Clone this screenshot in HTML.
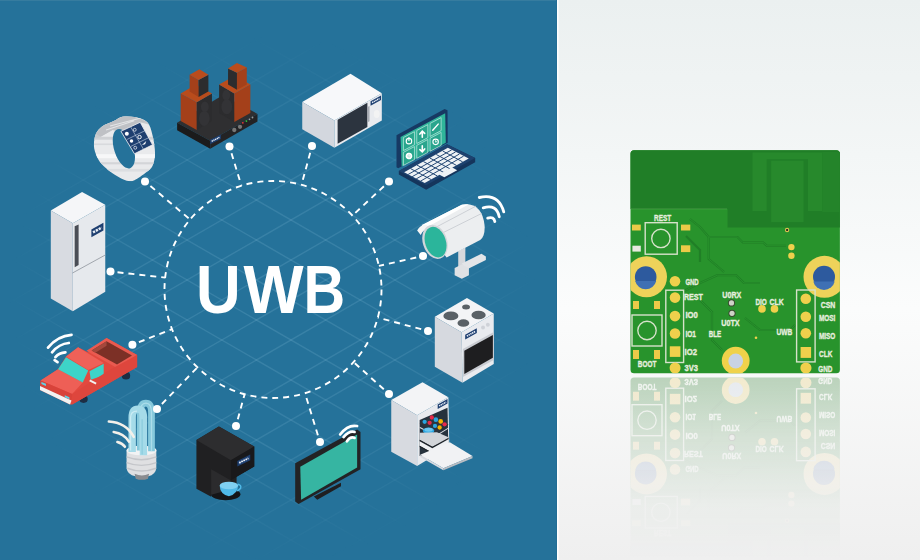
<!DOCTYPE html>
<html><head><meta charset="utf-8">
<style>
html,body{margin:0;padding:0;width:920px;height:560px;overflow:hidden;background:#fff;}
svg{display:block;}
text{font-family:"Liberation Sans",sans-serif;}
</style></head>
<body>
<svg width="920" height="560" viewBox="0 0 920 560">
<defs>
  <linearGradient id="rbg" x1="0" y1="0" x2="0" y2="1">
    <stop offset="0" stop-color="#ebf0f0"/>
    <stop offset="0.55" stop-color="#fbfcfc"/>
    <stop offset="1" stop-color="#efefef"/>
  </linearGradient>
  <linearGradient id="fade" x1="0" y1="0" x2="0" y2="1">
    <stop offset="0" stop-color="#fff" stop-opacity="0.36"/>
    <stop offset="0.35" stop-color="#fff" stop-opacity="0.18"/>
    <stop offset="0.7" stop-color="#fff" stop-opacity="0.04"/>
    <stop offset="1" stop-color="#fff" stop-opacity="0"/>
  </linearGradient>
  <filter id="desat" x="0" y="0" width="1" height="1"><feColorMatrix type="saturate" values="0.75"/></filter>
  <mask id="rmask" maskUnits="userSpaceOnUse" x="600" y="375" width="280" height="185">
    <rect x="600" y="375" width="280" height="185" fill="url(#fade)"/>
  </mask>
  <radialGradient id="gfade" cx="272" cy="300" r="265" gradientUnits="userSpaceOnUse">
    <stop offset="0" stop-color="#fff" stop-opacity="1"/>
    <stop offset="0.55" stop-color="#fff" stop-opacity="0.8"/>
    <stop offset="0.85" stop-color="#fff" stop-opacity="0.25"/>
    <stop offset="1" stop-color="#fff" stop-opacity="0"/>
  </radialGradient>
  <mask id="gmask" maskUnits="userSpaceOnUse" x="0" y="0" width="557" height="560">
    <rect x="0" y="0" width="557" height="560" fill="url(#gfade)"/>
  </mask>
  <clipPath id="leftclip"><rect x="0" y="0" width="557" height="560"/></clipPath>
  <clipPath id="pcbclip"><rect x="630.5" y="150.3" width="209.4" height="223" rx="3.5"/></clipPath>
</defs>
<rect x="557" y="0" width="363" height="560" fill="url(#rbg)"/>
<rect x="0" y="0" width="557" height="560" fill="#25729a"/>
<rect x="0" y="0" width="557" height="1" fill="#367c9f"/>
<rect x="556" y="0" width="1" height="560" fill="#226d95"/>
<rect x="557" y="0" width="1.5" height="560" fill="#ffffff"/>
<g clip-path="url(#leftclip)"><g mask="url(#gmask)" stroke="#a8d8ec" stroke-opacity="0.17" stroke-width="1.4">
<line x1="0" y1="-788.0" x2="557" y2="-466.4"/>
<line x1="0" y1="-772.0" x2="557" y2="-1093.6"/>
<line x1="0" y1="-748.0" x2="557" y2="-426.4"/>
<line x1="0" y1="-732.0" x2="557" y2="-1053.6"/>
<line x1="0" y1="-708.0" x2="557" y2="-386.4"/>
<line x1="0" y1="-692.0" x2="557" y2="-1013.6"/>
<line x1="0" y1="-668.0" x2="557" y2="-346.4"/>
<line x1="0" y1="-652.0" x2="557" y2="-973.6"/>
<line x1="0" y1="-628.0" x2="557" y2="-306.4"/>
<line x1="0" y1="-612.0" x2="557" y2="-933.6"/>
<line x1="0" y1="-588.0" x2="557" y2="-266.4"/>
<line x1="0" y1="-572.0" x2="557" y2="-893.6"/>
<line x1="0" y1="-548.0" x2="557" y2="-226.4"/>
<line x1="0" y1="-532.0" x2="557" y2="-853.6"/>
<line x1="0" y1="-508.0" x2="557" y2="-186.4"/>
<line x1="0" y1="-492.0" x2="557" y2="-813.6"/>
<line x1="0" y1="-468.0" x2="557" y2="-146.4"/>
<line x1="0" y1="-452.0" x2="557" y2="-773.6"/>
<line x1="0" y1="-428.0" x2="557" y2="-106.4"/>
<line x1="0" y1="-412.0" x2="557" y2="-733.6"/>
<line x1="0" y1="-388.0" x2="557" y2="-66.4"/>
<line x1="0" y1="-372.0" x2="557" y2="-693.6"/>
<line x1="0" y1="-348.0" x2="557" y2="-26.4"/>
<line x1="0" y1="-332.0" x2="557" y2="-653.6"/>
<line x1="0" y1="-308.0" x2="557" y2="13.6"/>
<line x1="0" y1="-292.0" x2="557" y2="-613.6"/>
<line x1="0" y1="-268.0" x2="557" y2="53.6"/>
<line x1="0" y1="-252.0" x2="557" y2="-573.6"/>
<line x1="0" y1="-228.0" x2="557" y2="93.6"/>
<line x1="0" y1="-212.0" x2="557" y2="-533.6"/>
<line x1="0" y1="-188.0" x2="557" y2="133.6"/>
<line x1="0" y1="-172.0" x2="557" y2="-493.6"/>
<line x1="0" y1="-148.0" x2="557" y2="173.6"/>
<line x1="0" y1="-132.0" x2="557" y2="-453.6"/>
<line x1="0" y1="-108.0" x2="557" y2="213.6"/>
<line x1="0" y1="-92.0" x2="557" y2="-413.6"/>
<line x1="0" y1="-68.0" x2="557" y2="253.6"/>
<line x1="0" y1="-52.0" x2="557" y2="-373.6"/>
<line x1="0" y1="-28.0" x2="557" y2="293.6"/>
<line x1="0" y1="-12.0" x2="557" y2="-333.6"/>
<line x1="0" y1="12.0" x2="557" y2="333.6"/>
<line x1="0" y1="28.0" x2="557" y2="-293.6"/>
<line x1="0" y1="52.0" x2="557" y2="373.6"/>
<line x1="0" y1="68.0" x2="557" y2="-253.6"/>
<line x1="0" y1="92.0" x2="557" y2="413.6"/>
<line x1="0" y1="108.0" x2="557" y2="-213.6"/>
<line x1="0" y1="132.0" x2="557" y2="453.6"/>
<line x1="0" y1="148.0" x2="557" y2="-173.6"/>
<line x1="0" y1="172.0" x2="557" y2="493.6"/>
<line x1="0" y1="188.0" x2="557" y2="-133.6"/>
<line x1="0" y1="212.0" x2="557" y2="533.6"/>
<line x1="0" y1="228.0" x2="557" y2="-93.6"/>
<line x1="0" y1="252.0" x2="557" y2="573.6"/>
<line x1="0" y1="268.0" x2="557" y2="-53.6"/>
<line x1="0" y1="292.0" x2="557" y2="613.6"/>
<line x1="0" y1="308.0" x2="557" y2="-13.6"/>
<line x1="0" y1="332.0" x2="557" y2="653.6"/>
<line x1="0" y1="348.0" x2="557" y2="26.4"/>
<line x1="0" y1="372.0" x2="557" y2="693.6"/>
<line x1="0" y1="388.0" x2="557" y2="66.4"/>
<line x1="0" y1="412.0" x2="557" y2="733.6"/>
<line x1="0" y1="428.0" x2="557" y2="106.4"/>
<line x1="0" y1="452.0" x2="557" y2="773.6"/>
<line x1="0" y1="468.0" x2="557" y2="146.4"/>
<line x1="0" y1="492.0" x2="557" y2="813.6"/>
<line x1="0" y1="508.0" x2="557" y2="186.4"/>
<line x1="0" y1="532.0" x2="557" y2="853.6"/>
<line x1="0" y1="548.0" x2="557" y2="226.4"/>
<line x1="0" y1="572.0" x2="557" y2="893.6"/>
<line x1="0" y1="588.0" x2="557" y2="266.4"/>
<line x1="0" y1="612.0" x2="557" y2="933.6"/>
<line x1="0" y1="628.0" x2="557" y2="306.4"/>
<line x1="0" y1="652.0" x2="557" y2="973.6"/>
<line x1="0" y1="668.0" x2="557" y2="346.4"/>
<line x1="0" y1="692.0" x2="557" y2="1013.6"/>
<line x1="0" y1="708.0" x2="557" y2="386.4"/>
<line x1="0" y1="732.0" x2="557" y2="1053.6"/>
<line x1="0" y1="748.0" x2="557" y2="426.4"/>
<line x1="0" y1="772.0" x2="557" y2="1093.6"/>
<line x1="0" y1="788.0" x2="557" y2="466.4"/>
<line x1="0" y1="812.0" x2="557" y2="1133.6"/>
<line x1="0" y1="828.0" x2="557" y2="506.4"/>
<line x1="0" y1="852.0" x2="557" y2="1173.6"/>
<line x1="0" y1="868.0" x2="557" y2="546.4"/>
<line x1="0" y1="892.0" x2="557" y2="1213.6"/>
<line x1="0" y1="908.0" x2="557" y2="586.4"/>
<line x1="0" y1="932.0" x2="557" y2="1253.6"/>
<line x1="0" y1="948.0" x2="557" y2="626.4"/>
<line x1="0" y1="972.0" x2="557" y2="1293.6"/>
<line x1="0" y1="988.0" x2="557" y2="666.4"/>
<line x1="0" y1="1012.0" x2="557" y2="1333.6"/>
<line x1="0" y1="1028.0" x2="557" y2="706.4"/>
<line x1="0" y1="1052.0" x2="557" y2="1373.6"/>
<line x1="0" y1="1068.0" x2="557" y2="746.4"/>
<line x1="0" y1="1092.0" x2="557" y2="1413.6"/>
<line x1="0" y1="1108.0" x2="557" y2="786.4"/>
<line x1="0" y1="1132.0" x2="557" y2="1453.6"/>
<line x1="0" y1="1148.0" x2="557" y2="826.4"/>
<line x1="0" y1="1172.0" x2="557" y2="1493.6"/>
<line x1="0" y1="1188.0" x2="557" y2="866.4"/>
<line x1="0" y1="1212.0" x2="557" y2="1533.6"/>
<line x1="0" y1="1228.0" x2="557" y2="906.4"/>
<line x1="0" y1="1252.0" x2="557" y2="1573.6"/>
<line x1="0" y1="1268.0" x2="557" y2="946.4"/>
<line x1="0" y1="1292.0" x2="557" y2="1613.6"/>
<line x1="0" y1="1308.0" x2="557" y2="986.4"/>
<line x1="0" y1="1332.0" x2="557" y2="1653.6"/>
<line x1="0" y1="1348.0" x2="557" y2="1026.4"/>
<line x1="0" y1="1372.0" x2="557" y2="1693.6"/>
<line x1="0" y1="1388.0" x2="557" y2="1066.4"/>
<line x1="0" y1="1412.0" x2="557" y2="1733.6"/>
<line x1="0" y1="1428.0" x2="557" y2="1106.4"/>
<line x1="0" y1="1452.0" x2="557" y2="1773.6"/>
<line x1="0" y1="1468.0" x2="557" y2="1146.4"/>
<line x1="0" y1="1492.0" x2="557" y2="1813.6"/>
<line x1="0" y1="1508.0" x2="557" y2="1186.4"/>
<line x1="0" y1="1532.0" x2="557" y2="1853.6"/>
<line x1="0" y1="1548.0" x2="557" y2="1226.4"/>
<line x1="0" y1="1572.0" x2="557" y2="1893.6"/>
<line x1="0" y1="1588.0" x2="557" y2="1266.4"/></g></g>
<g fill="none" stroke="#fff" stroke-width="1.9" stroke-dasharray="6 5">
<circle cx="273" cy="289.5" r="108.5"/>
<line x1="150.4" y1="186.0" x2="190.1" y2="219.5"/>
<line x1="231.5" y1="153.2" x2="241.4" y2="185.7"/>
<line x1="310.2" y1="152.8" x2="301.5" y2="184.8"/>
<line x1="383.9" y1="186.3" x2="352.4" y2="215.6"/>
<line x1="416.2" y1="257.5" x2="378.9" y2="265.9"/>
<line x1="421.2" y1="329.2" x2="377.8" y2="317.6"/>
<line x1="383.8" y1="389.3" x2="353.6" y2="362.1"/>
<line x1="317.9" y1="435.3" x2="305.0" y2="393.2"/>
<line x1="237.8" y1="419.2" x2="244.6" y2="394.2"/>
<line x1="161.9" y1="404.0" x2="197.4" y2="367.4"/>
<line x1="138.9" y1="342.2" x2="172.0" y2="329.2"/>
<line x1="117.5" y1="272.3" x2="165.2" y2="277.6"/>
</g>

<g fill="#fff" font-size="68" font-weight="bold" style="font-family:'Liberation Sans',sans-serif">
<text transform="translate(196.05,313.4) scale(0.91,1)">U</text>
<text transform="translate(243.6,313.4) scale(0.936,1)">W</text>
<text transform="translate(303.5,313.4) scale(0.848,1)">B</text>
</g>
<!-- watch -->
<g transform="translate(90,110) scale(0.13387)">
  <defs><clipPath id="wclip"><path d="M29,265 C28,236 34,202 44,178 C54,154 70,137 92,121 C114,105 152,94 178,82 C204,70 220,54 246,49 C272,44 302,46 332,53 C362,60 406,70 428,92 C450,114 457,150 467,188 C477,226 486,284 486,322 C486,360 478,395 467,419 C456,443 440,450 418,467 C396,484 356,514 332,524 C308,534 298,535 274,529 C250,523 217,504 188,486 C159,468 124,442 101,419 C78,396 65,377 53,351 C41,325 30,294 29,265 Z"/></clipPath></defs>
  <g clip-path="url(#wclip)">
    <rect x="0" y="0" width="520" height="560" fill="#e9eaec"/>
    <rect x="0" y="200" width="520" height="22" fill="#cfd1d4"/>
    <rect x="0" y="250" width="520" height="12" fill="#d8dadd"/>
    <rect x="0" y="330" width="520" height="30" fill="#f7f7f8"/>
    <rect x="0" y="390" width="520" height="16" fill="#d3d5d8"/>
    <rect x="0" y="440" width="520" height="20" fill="#dcdee1"/>
    <path d="M0,0 L520,0 L520,130 L375,92 L231,159 L168,150 L60,210 L0,200 Z" fill="#c9cbce"/>
    <path d="M44,178 L92,121 L178,82 L246,49 L332,53 L428,92 L375,92 L231,159 L168,150 L80,200 Z" fill="#bfc1c5"/>
    <path d="M150,120 L380,60 M120,150 L330,80" stroke="#e4e5e7" stroke-width="8"/>
  </g>
  <ellipse cx="253" cy="289" rx="72" ry="153" transform="rotate(-18 253 289)" fill="#25729a"/>
  <path d="M231,159 L375,92 L467,260 L332,327 Z" fill="#1e3f70" stroke="#f2f3f5" stroke-width="6"/>
  <g stroke="#dfe8f3" stroke-width="4" fill="none">
    <path d="M277,220 L416,152 M305,272 L442,205"/>
    <path d="M303,125 L400,294"/>
  </g>
  <g fill="#fff">
    <circle cx="275" cy="178" r="15"/><circle cx="334" cy="148" r="11" fill="none" stroke="#fff" stroke-width="5"/>
    <circle cx="310" cy="232" r="13"/><circle cx="370" cy="202" r="13" fill="none" stroke="#fff" stroke-width="7"/>
    <circle cx="338" cy="282" r="11" fill="none" stroke="#fff" stroke-width="5"/><path d="M388,262 L420,232 L412,255 Z"/>
  </g>
</g>
<!-- speakers -->
<g transform="translate(170,55) scale(0.17857)">
  <path d="M40,380 L295,225 L490,330 L225,480 Z" fill="#2f2f31"/>
  <path d="M40,380 L225,480 L225,525 L40,422 Z" fill="#1b1b1c"/>
  <path d="M225,480 L490,330 L490,372 L225,525 Z" fill="#232325"/>
  <!-- left speaker -->
  <path d="M60,215 L150,265 L150,420 L60,370 Z" fill="#a4401a"/>
  <path d="M150,265 L235,215 L235,370 L150,420 Z" fill="#2c2c2e"/>
  <path d="M60,215 L145,165 L235,215 L150,265 Z" fill="#b94c1c"/>
  <path d="M110,110 L160,140 L160,235 L110,205 Z" fill="#a4401a"/>
  <path d="M160,140 L215,110 L215,205 L160,235 Z" fill="#2c2c2e"/>
  <path d="M110,110 L165,80 L215,110 L160,140 Z" fill="#b94c1c"/>
  <ellipse cx="195" cy="290" rx="22" ry="30" fill="#333336"/>
  <ellipse cx="192" cy="355" rx="30" ry="42" fill="#333336"/>
  <!-- right speaker -->
  <path d="M275,165 L360,215 L360,375 L275,325 Z" fill="#2c2c2e"/>
  <path d="M360,215 L450,165 L450,325 L360,375 Z" fill="#a4401a"/>
  <path d="M275,165 L365,115 L450,165 L360,215 Z" fill="#b94c1c"/>
  <path d="M325,75 L375,100 L375,195 L325,165 Z" fill="#2c2c2e"/>
  <path d="M375,100 L430,70 L430,165 L375,195 Z" fill="#a4401a"/>
  <path d="M325,75 L375,45 L430,70 L375,100 Z" fill="#b94c1c"/>
  <ellipse cx="315" cy="225" rx="22" ry="30" fill="#333336"/>
  <ellipse cx="318" cy="290" rx="30" ry="42" fill="#333336"/>
  <!-- controls -->
  <circle cx="360" cy="420" r="12" fill="#777"/><circle cx="392" cy="402" r="12" fill="#777"/>
  <circle cx="408" cy="380" r="5" fill="#e33"/><circle cx="428" cy="370" r="5" fill="#3c3"/>
  <circle cx="445" cy="360" r="5" fill="#999"/><circle cx="462" cy="350" r="5" fill="#999"/>
  <path d="M225,475 L285,445 L285,470 L225,500 Z" fill="#1e3f70"/>
  <path d="M233.4,483.3 L276.6,461.7" stroke="#e8eef6" stroke-width="8.0" stroke-dasharray="7.5 3.0"/>
</g>
<!-- microwave -->
<g transform="translate(295,65) scale(0.1608)">
  <path d="M45,230 L345,55 L540,175 L245,345 Z" fill="#f7f8fa"/>
  <path d="M45,230 L245,345 L245,515 L45,400 Z" fill="#d3d7de"/>
  <path d="M245,345 L540,175 L540,345 L245,515 Z" fill="#e9ebef"/>
  <path d="M265,340 L450,235 L450,385 L265,490 Z" fill="#2c343f"/>
  <path d="M455,260 L463,255 L463,350 L455,355 Z" fill="#9aa0a8"/>
  <path d="M470,225 L535,190 L535,217 L470,253 Z" fill="#1e3f70"/>
  <path d="M479.1,234.1 L525.9,208.4" stroke="#e8eef6" stroke-width="9.0" stroke-dasharray="8.4 3.4"/>
  <ellipse cx="508" cy="305" rx="18" ry="25" fill="#f3f3f3"/>
</g>
<!-- laptop -->
<g transform="translate(390,105) scale(0.1607)">
  <path d="M55,410 L355,245 L530,330 L530,357 L225,527 L55,432 Z" fill="#15355c"/>
  <path d="M55,410 L355,245 L530,330 L225,500 Z" fill="#1d426f"/>
  <path d="M40.3,188.3 L339.9,24.4 L357.9,33.1 L359.3,235.2 L51.1,394.0 L40.3,386.8 Z" fill="#173963"/>
  <path d="M65.6,199.1 L343.5,51.1 L347.1,235.2 L72.8,383.2 Z" fill="#2fb59a"/>
  <path d="M83.6,202.7 L152.2,166.4 L152.2,247.2 L83.6,283.6 Z M83.6,295.1 L152.2,258.8 L152.2,339.6 L83.6,376.0 Z M166.6,158.7 L235.2,122.4 L235.2,203.2 L166.6,239.6 Z M166.6,251.1 L235.2,214.8 L235.2,295.6 L166.6,332.0 Z M249.6,114.7 L318.2,78.4 L318.2,159.2 L249.6,195.6 Z M249.6,207.1 L318.2,170.8 L318.2,251.6 L249.6,288.0 Z" fill="#29a58d" stroke="#d3f1e9" stroke-width="4"/>
  <g fill="none" stroke="#fff" stroke-width="7" stroke-linecap="round">
    <circle cx="117.9" cy="225.0" r="17"/><path d="M117.9,203.0 L117.9,221.0"/>
    <circle cx="117.9" cy="317.4" r="15" stroke-width="12" stroke-dasharray="7 5"/><circle cx="117.9" cy="317.4" r="7"/>
    <path d="M185.9,181.0 L200.9,163.0 L215.9,177.0 M200.9,166.0 L200.9,201.0" stroke-width="10"/>
    <path d="M185.9,277.4 L200.9,291.4 L215.9,273.4 M200.9,253.4 L200.9,288.4" stroke-width="10"/>
    <path d="M265.9,157.0 L299.9,119.0" stroke-width="9"/>
    <circle cx="283.9" cy="229.4" r="17"/><path d="M283.9,221.4 L283.9,231.4 L291.9,227.4" stroke-width="5"/>
  </g>
  <path d="M88,418 L360,266 L490,333 L216,486 Z" fill="#eef2f5"/>
  <g stroke="#1d426f" stroke-width="6" fill="none">
    <path d="M113,432 L384,279 M138,446 L408,292 M163,460 L432,305 M190,474 L458,318"/>
    <path d="M128,396 L256,464 M168,374 L295,442 M208,352 L335,420 M248,330 L375,398 M288,308 L414,376 M328,286 L452,354"/>
  </g>
  <path d="M305,432 L385,388 L418,406 L338,450 Z" fill="#eef2f5"/>
</g>
<!-- camera -->
<g transform="translate(410,185) scale(0.17857)">
  <path d="M270,370 L310,350 L310,470 L270,490 Z" fill="#d6d8dc"/>
  <path d="M290,440 L400,385 L425,400 L425,420 L315,475 Z" fill="#e3e5e8"/>
  <path d="M250,465 L290,445 L330,465 L330,505 L290,525 L250,505 Z" fill="#dfe1e4"/>
  <path d="M65,226 L290,110 Q405,95 418,230 Q420,292 393,308 L205,406 Z" fill="#eceef0"/>
  <path d="M65,226 L290,110 Q310,106 330,108 L95,236 Z" fill="#ffffff"/>
  <path d="M135,242 L370,118 M175,272 L400,160" stroke="#c9cdd2" stroke-width="5" fill="none"/>
  <path d="M40,255 Q60,220 95,225 L110,245 Q75,245 60,280 Z" fill="#f5f5f5"/>
  <ellipse cx="140" cy="318" rx="68" ry="98" transform="rotate(-18 140 318)" fill="#d3d6da"/>
  <ellipse cx="143" cy="320" rx="58" ry="88" transform="rotate(-18 143 320)" fill="#2bb59b"/>
  <g fill="none" stroke="#fff" stroke-width="16" stroke-linecap="round">
    <path d="M435,185 Q470,175 475,205"/>
    <path d="M410,128 Q485,105 500,178"/>
    <path d="M388,70 Q495,45 525,150"/>
  </g>
</g>
<!-- oven -->
<g transform="translate(425,290) scale(0.17857)">
  <path d="M55,150 L235,45 L385,132 L205,237 Z" fill="#f3f4f6"/>
  <path d="M55,150 L205,237 L210,520 L55,430 Z" fill="#d6d9df"/>
  <path d="M205,237 L385,132 L385,415 L210,520 Z" fill="#e9ebef"/>
  <ellipse cx="145" cy="145" rx="42" ry="25" fill="#5a6166"/>
  <ellipse cx="230" cy="95" rx="22" ry="14" fill="#5a6166"/>
  <ellipse cx="300" cy="140" rx="40" ry="24" fill="#5a6166"/>
  <ellipse cx="215" cy="185" rx="33" ry="21" fill="#5a6166"/>
  <path d="M225,250 L290,214 L290,241 L225,277 Z" fill="#1e3f70"/>
  <path d="M234.1,258.5 L280.9,232.5" stroke="#e8eef6" stroke-width="8.6" stroke-dasharray="8.1 3.2"/>
  <circle cx="325" cy="210" r="11" fill="#cfd2d8"/><circle cx="352" cy="195" r="11" fill="#cfd2d8"/>
  <path d="M212,330 L385,235 L385,392 L212,487 Z" fill="#c9ccd2"/>
  <path d="M220,340 L380,252 L380,380 L220,470 Z" fill="#1e1e20"/>
</g>
<!-- dishwasher -->
<g transform="translate(385,375) scale(0.17857)">
  <path d="M35,140 L210,40 L355,125 L180,225 Z" fill="#f3f4f6"/>
  <path d="M35,140 L180,225 L180,510 L35,430 Z" fill="#d7dae0"/>
  <path d="M180,225 L355,125 L360,400 L180,510 Z" fill="#e8eaee"/>
  <path d="M194,252 L350,184 L356,447 L194,454 Z" fill="#26323d"/>
  <path d="M295,165 L350,135 L350,160 L295,190 Z" fill="#1e3f70"/>
  <path d="M302.7,173.3 L342.3,151.7" stroke="#e8eef6" stroke-width="8.0" stroke-dasharray="7.5 3.0"/>
  <path d="M194,272 L265,230 L356,278 L285,321 Z" fill="#2e353c"/>
  <path d="M194,290 L285,337 L356,294 L356,300 L285,344 L194,297 Z" fill="#d9dce0"/>
  <g>
    <circle cx="222" cy="262" r="12" fill="#2aa5e0"/><circle cx="262" cy="238" r="12" fill="#e8294b"/>
    <circle cx="250" cy="268" r="12" fill="#e8294b"/><circle cx="285" cy="250" r="13" fill="#2aa5e0"/>
    <circle cx="280" cy="285" r="12" fill="#2aa5e0"/><circle cx="312" cy="260" r="13" fill="#f4b400"/>
    <circle cx="306" cy="294" r="12" fill="#f4b400"/><circle cx="334" cy="276" r="12" fill="#e8294b"/>
    <ellipse cx="244" cy="312" rx="32" ry="18" fill="#2aa5e0"/>
    <ellipse cx="244" cy="307" rx="24" ry="11" fill="#6cc7ef"/>
  </g>
  <path d="M194,324 L291,321 L353,347 L353,363 L265,402 L194,363 Z" fill="#d2d5d9"/>
  <path d="M194,363 L265,402 L356,352 L356,360 L265,410 L194,371 Z" fill="#1e2328"/>
  <path d="M194,371 L265,410 L356,360 L356,385 L265,435 L194,396 Z" fill="#eef0f2"/>
  <path d="M194,396 L265,435 L356,385 L356,392 L265,442 L194,403 Z" fill="#1e2328"/>
  <path d="M197,447 L363,376 L490,454 L327,522 Z" fill="#f1f2f4"/>
  <path d="M327,522 L490,454 L490,466 L327,534 Z" fill="#b9bdc3"/>
  <path d="M197,447 L327,522 L327,534 L197,459 Z" fill="#d7dae0"/>
</g>
<!-- tv -->
<g transform="translate(285,415) scale(0.16966)">
  <path d="M170,480 L330,400 L330,420 L190,500 Z" fill="#1f1f21"/>
  <path d="M60,285 L425,85 L445,100 L445,320 L80,525 L60,510 Z" fill="#232325"/>
  <path d="M90,305 L425,115 L425,310 L95,500 Z" fill="#36b5a2"/>
  <g fill="none" stroke="#fff" stroke-width="16" stroke-linecap="round">
    <path d="M365,155 Q385,125 410,135"/>
    <path d="M345,130 Q380,90 410,100"/>
    <path d="M325,115 Q370,55 425,65"/>
  </g>
</g>
<!-- coffee -->
<g transform="translate(190,420) scale(0.16059)">
  <ellipse cx="222" cy="462" rx="92" ry="38" fill="#151517"/>
  <path d="M40,125 L180,40 L400,165 L400,290 L290,352 L290,410 L132,465 L132,478 L40,428 Z" fill="#202022"/>
  <path d="M40,125 L180,40 L400,165 L255,250 Z" fill="#2d2d2f"/>
  <path d="M255,250 L400,165 L400,290 L255,375 Z" fill="#19191b"/>
  <path d="M132,307 L253,375 L253,433 L132,465 Z" fill="#2b2b2d"/>
  <path d="M295,255 L375,215 L375,250 L295,290 Z" fill="#1e3f70"/>
  <path d="M306.2,266.9 L363.8,238.1" stroke="#e8eef6" stroke-width="11.2" stroke-dasharray="10.5 4.2"/>
  <path d="M185,412 Q242,380 300,405 Q298,462 242,475 Q188,462 185,412 Z" fill="#4fb9e8"/>
  <ellipse cx="242" cy="408" rx="57" ry="24" fill="#7fd0f2"/>
  <path d="M298,400 Q322,405 315,425 Q305,440 290,440" fill="none" stroke="#4fb9e8" stroke-width="9"/>
</g>
<!-- bulb -->
<g transform="translate(100,395) scale(0.1609)">
  <path d="M165,345 L350,345 L350,455 Q345,495 300,505 L220,505 Q170,495 165,455 Z" fill="#dfe0e2"/>
  <path d="M165,385 Q258,420 350,385 M165,420 Q258,455 350,420 M170,455 Q258,490 348,455" stroke="#c4c6ca" stroke-width="9" fill="none"/>
  <path d="M215,490 Q260,510 305,490 L298,520 Q260,535 222,520 Z" fill="#8a8c90"/>
  <ellipse cx="258" cy="345" rx="93" ry="30" fill="#f2f3f4"/>
  <path d="M250,345 L250,110 Q250,50 285,50 Q320,50 320,110 L320,350" fill="none" stroke="#86c9dc" stroke-width="42" stroke-linejoin="round"/>
  <path d="M250,345 L250,110 Q250,50 285,50 Q320,50 320,110 L320,350" fill="none" stroke="#b4e2ee" stroke-width="8" opacity="0.8"/>
  <path d="M200,355 L200,140 Q200,88 235,88 Q270,88 270,140 L270,375" fill="none" stroke="#a5dbe9" stroke-width="46" stroke-linejoin="round"/>
  <path d="M190,345 L190,140 Q190,100 230,100" fill="none" stroke="#d4f0f6" stroke-width="8" opacity="0.8"/>
  <path d="M262,150 L262,370" fill="none" stroke="#7cc3d6" stroke-width="8" opacity="0.6"/>
  <g fill="none" stroke="#f3f0ea" stroke-width="16" stroke-linecap="round">
    <path d="M55,165 Q160,170 210,260"/>
    <path d="M85,230 Q150,240 180,290"/>
    <path d="M108,292 Q140,300 155,322"/>
  </g>
</g>
<!-- car -->
<g transform="translate(35,320) scale(0.1608)">
  <g fill="none" stroke="#fff" stroke-width="17" stroke-linecap="round">
    <path d="M81,172 Q140,100 227,93"/>
    <path d="M106,201 Q150,148 210,143"/>
    <path d="M127,231 Q150,203 189,201"/>
    <path d="M122,250 L140,262"/>
  </g>
  <ellipse cx="302" cy="492" rx="26" ry="24" fill="#1d2e44"/>
  <ellipse cx="566" cy="346" rx="26" ry="24" fill="#1d2e44"/>
  <path d="M35,376 L143,306 L193,227 L268,170 L330,200 L445,112 L635,217 L635,292 L231,526 L218,526 L31,435 Z" fill="#e2493f"/>
  <path d="M320,192 L445,112 L635,217 L510,298 Z" fill="#ea5a50"/>
  <path d="M352,190 L445,132 L603,220 L510,276 Z" fill="#7c3026"/>
  <path d="M352,190 L445,132 L445,160 L375,203 Z" fill="#a4483c"/>
  <path d="M193,227 L268,170 L427,268 L331,311 Z" fill="#ef6158"/>
  <path d="M35,376 L143,306 L297,389 L231,460 Z" fill="#ee5f56"/>
  <path d="M143,306 L193,231 L331,314 L297,389 Z" fill="#3dd4c8"/>
  <path d="M339,318 L427,272 L427,343 L347,372 Z" fill="#3dd4c8"/>
  <path d="M231,460 L466,310 L635,217 L635,292 L231,526 Z" fill="#de463d"/>
  <path d="M35,376 L231,460 L227,505 L31,414 Z" fill="#d8433a"/>
  <path d="M31,410 L227,501 L218,526 L31,435 Z" fill="#f2f2f2"/>
  <path d="M40,385 L68,397 L68,410 L40,398 Z M185,468 L214,481 L214,493 L185,480 Z" fill="#5fd3e6"/>
  <path d="M340,375 L380,395" stroke="#f2f2f2" stroke-width="12"/>
</g>
<!-- fridge -->
<g transform="translate(45,185) scale(0.2318)">
  <path d="M25,110 L160,30 L260,85 L120,165 Z" fill="#f5f6f8"/>
  <path d="M25,110 L120,165 L120,545 L25,490 Z" fill="#d8dbe1"/>
  <path d="M120,165 L260,85 L260,460 L120,545 Z" fill="#e6e9ed"/>
  <path d="M118,380 L260,302" stroke="#9aa0a8" stroke-width="4"/>
  <path d="M128,178 L145,170 L145,345 L128,355 Z" fill="#4a4e56"/>
  <path d="M200,192 L252,163 L252,196 L200,225 Z" fill="#1e3f70"/>
  <path d="M207.3,204.4 L244.7,183.6" stroke="#e8eef6" stroke-width="10.6" stroke-dasharray="9.9 4.0"/>
</g>
<g fill="#fff">
<circle cx="145.0" cy="181.5" r="4"/>
<circle cx="229.5" cy="146.5" r="4"/>
<circle cx="312.0" cy="146.0" r="4"/>
<circle cx="389.0" cy="181.5" r="4"/>
<circle cx="423.0" cy="256.0" r="4"/>
<circle cx="428.0" cy="331.0" r="4"/>
<circle cx="389.0" cy="394.0" r="4"/>
<circle cx="320.0" cy="442.0" r="4"/>
<circle cx="236.0" cy="426.0" r="4"/>
<circle cx="157.0" cy="409.0" r="4"/>
<circle cx="132.4" cy="344.8" r="4"/>
<circle cx="110.5" cy="271.5" r="4"/>
</g>
<g id="pcb">
  <rect x="630.5" y="150.3" width="209.4" height="223" rx="3.5" fill="#28932c"/>
  <g clip-path="url(#pcbclip)">
    <path d="M630,150 L840,150 L840,227.5 L727.5,227.5 L727.5,208.9 L630,208.9 Z" fill="#207e27"/>
    <path d="M630,208.9 L727,208.9" stroke="#6fb866" stroke-width="0.8" opacity="0.5"/>
    <!-- antenna -->
    <path d="M752.5,152.5 L822.2,152.5 L822.2,211 L808,211 L808,159.2 L766.7,159.2 L766.7,211 L752.5,211 Z" fill="#27892c"/>
    <rect x="771.2" y="160.7" width="32.3" height="61.5" fill="#27892c"/>
    <rect x="822.2" y="152" width="18" height="60" fill="#24842a"/>
    <!-- traces -->
    <g fill="none" stroke="#1b7023" stroke-width="2.2" opacity="0.55">
      <path d="M690,219 L700,227 L708.7,237 L737.5,237 L742.8,242.4 L763,242.4 L767,245.8 L786,245.8"/>
      <path d="M708.7,237 L708.7,259 L720,268.5 L724,272"/>
      <path d="M682,292 L700,283 L717.4,275.2 L736,275.2 L744,283 L760,283"/>
      <path d="M700,300 L712,312 L712,340 L722,350"/>
      <path d="M745,318 L760,330 L790,330 L795,325"/>
      <path d="M633,265 L640,258 M686,236 L700,250 L700,262"/>
    </g>
    <g fill="none" stroke="#28932c" stroke-width="1" opacity="1">
      <path d="M690,219 L700,227 L708.7,237 L737.5,237 L742.8,242.4 L763,242.4 L767,245.8 L786,245.8"/>
      <path d="M708.7,237 L708.7,259 L720,268.5 L724,272"/>
      <path d="M682,292 L700,283 L717.4,275.2 L736,275.2 L744,283 L760,283"/>
      <path d="M700,300 L712,312 L712,340 L722,350"/>
      <path d="M745,318 L760,330 L790,330 L795,325"/>
    </g>
    <!-- mounting holes -->
    <circle cx="646.5" cy="276.8" r="20.5" fill="#eed25a"/>
    <circle cx="645.7" cy="277" r="10.8" fill="#2d5a9e"/>
    <path d="M635.2,281 A10.8,10.8 0 0 0 656.2,281 Z" fill="#3f70b4"/>
    <circle cx="824.5" cy="276.8" r="21" fill="#eed25a"/>
    <circle cx="824" cy="276.8" r="11" fill="#2d5a9e"/>
    <path d="M813.3,281.5 A11,11 0 0 0 834.7,281.5 Z" fill="#3f70b4"/>
    <circle cx="735.7" cy="360.7" r="13.9" fill="#f0d24a"/>
    <circle cx="735.7" cy="361" r="7.4" fill="#c9d3e3"/>
    <!-- REST button -->
    <rect x="645.2" y="222.7" width="32" height="31.5" fill="none" stroke="#d6e2ca" stroke-width="1.4"/>
    <circle cx="660.9" cy="238.4" r="9.2" fill="none" stroke="#d6e2ca" stroke-width="1.4"/>
    <rect x="632" y="224.6" width="8.8" height="5.9" fill="#ecca48"/>
    <rect x="681" y="224.6" width="9.3" height="5.9" fill="#ecca48"/>
    <rect x="681" y="245.3" width="9.3" height="6.8" fill="#ecca48"/>
    <rect x="632.4" y="245.7" width="8.4" height="5.9" fill="#e8e8e0"/>
    <!-- BOOT button -->
    <rect x="632" y="315" width="30" height="31" fill="none" stroke="#d6e2ca" stroke-width="1.4"/>
    <circle cx="647" cy="330.5" r="9.2" fill="none" stroke="#d6e2ca" stroke-width="1.4"/>
    <rect x="633" y="301" width="6" height="8" fill="#ecca48"/>
    <rect x="654" y="301" width="6" height="8" fill="#ecca48"/>
    <rect x="633" y="350" width="6" height="9" fill="#ecca48"/>
    <rect x="654" y="350" width="6" height="9" fill="#ecca48"/>
    <!-- left header -->
    <rect x="665.8" y="290.2" width="17.8" height="72.3" fill="none" stroke="#d6e2ca" stroke-width="1.4"/>
    <g fill="#efd04c">
      <circle cx="675" cy="281.3" r="5.3"/>
      <circle cx="675" cy="297.6" r="5.3"/>
      <circle cx="675" cy="316.1" r="5.3"/>
      <circle cx="675" cy="333.5" r="5.3"/>
      <rect x="669.8" y="346.3" width="10.6" height="10.6"/>
      <circle cx="675.1" cy="368" r="5.5"/>
    </g>
    <!-- right header -->
    <rect x="796.6" y="290" width="18.5" height="71.9" fill="none" stroke="#d6e2ca" stroke-width="1.4"/>
    <g fill="#efd04c">
      <circle cx="805.8" cy="298.8" r="5.3"/>
      <circle cx="805.8" cy="316.7" r="5.3"/>
      <circle cx="805.8" cy="333.2" r="5.3"/>
      <rect x="800.6" y="347" width="10.5" height="10.9"/>
      <circle cx="805.9" cy="368" r="5.6"/>
      <circle cx="762" cy="308.9" r="3.8"/>
      <circle cx="774.5" cy="308.9" r="3.8"/>
      <circle cx="791.4" cy="247.1" r="3.2"/>
      <circle cx="791.4" cy="255.7" r="3.2"/>
      <circle cx="756" cy="337.7" r="1.3"/>
    </g>
    <circle cx="787.1" cy="230" r="2.2" fill="#d8c050"/><circle cx="787.1" cy="230" r="1.1" fill="#1a1a1a"/>
    <circle cx="731.5" cy="302.9" r="3.6" fill="#3a4a30"/><circle cx="731.5" cy="302.9" r="2.6" fill="#cfd3c8"/>
    <circle cx="732" cy="313.3" r="3.6" fill="#3a4a30"/><circle cx="732" cy="313.3" r="2.6" fill="#cfd3c8"/>
    <!-- labels -->
    <g fill="#e6eedf" stroke="#e6eedf" stroke-width="0.35" font-size="9" font-weight="bold" style="font-family:'Liberation Sans',sans-serif" lengthAdjust="spacingAndGlyphs">
      <text x="654" y="220.5" textLength="17.2" lengthAdjust="spacingAndGlyphs">REST</text>
      <text x="637.8" y="367.2" textLength="18.5" lengthAdjust="spacingAndGlyphs">BOOT</text>
      <text x="685.4" y="284.8" textLength="13.3" lengthAdjust="spacingAndGlyphs">GND</text>
      <text x="683.9" y="300" textLength="19" lengthAdjust="spacingAndGlyphs">REST</text>
      <text x="685.4" y="317.9" textLength="12.5" lengthAdjust="spacingAndGlyphs">IO0</text>
      <text x="685.4" y="337.1" textLength="10.6" lengthAdjust="spacingAndGlyphs">IO1</text>
      <text x="684.5" y="354.5" textLength="12.5" lengthAdjust="spacingAndGlyphs">IO2</text>
      <text x="684.5" y="371.4" textLength="13.4" lengthAdjust="spacingAndGlyphs">3V3</text>
      <text x="708.7" y="336.6" textLength="12.5" lengthAdjust="spacingAndGlyphs">BLE</text>
      <text x="722.3" y="298" textLength="19" lengthAdjust="spacingAndGlyphs">U0RX</text>
      <text x="721.2" y="325.8" textLength="18.5" lengthAdjust="spacingAndGlyphs">U0TX</text>
      <text x="755.4" y="304.6" textLength="11.4" lengthAdjust="spacingAndGlyphs">DIO</text>
      <text x="769.6" y="304.6" textLength="14.1" lengthAdjust="spacingAndGlyphs">CLK</text>
      <text x="776.6" y="335" textLength="15.8" lengthAdjust="spacingAndGlyphs">UWB</text>
      <text x="820.7" y="307.9" textLength="14.7" lengthAdjust="spacingAndGlyphs">CSN</text>
      <text x="818.9" y="320.8" textLength="16.5" lengthAdjust="spacingAndGlyphs">MOSI</text>
      <text x="818.9" y="338.7" textLength="16.5" lengthAdjust="spacingAndGlyphs">MISO</text>
      <text x="819.1" y="356.7" textLength="13.3" lengthAdjust="spacingAndGlyphs">CLK</text>
      <text x="818.3" y="372.4" textLength="14.1" lengthAdjust="spacingAndGlyphs">GND</text>
    </g>
  </g>
</g>
<g mask="url(#rmask)"><g filter="url(#desat)"><use href="#pcb" transform="translate(0,750.7) scale(1,-1)"/></g></g>
</svg>
</body></html>
